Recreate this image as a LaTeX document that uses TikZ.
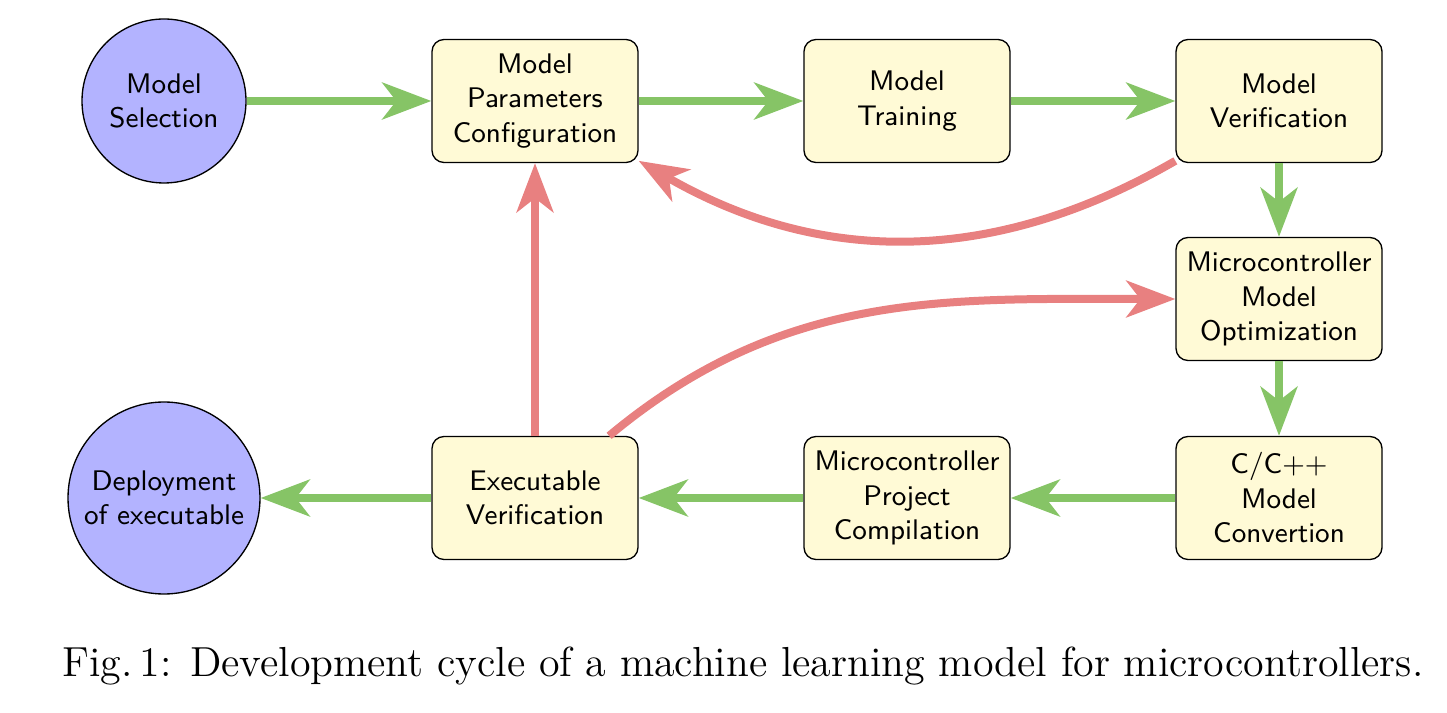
\documentclass[tikz,border=0pt]{standalone}
\usepackage{amsmath,amssymb}
\usetikzlibrary{arrows.meta}

\definecolor{stagefill}{HTML}{FFFAD6}
\definecolor{endfill}{HTML}{B3B3FF}
\definecolor{fwdgreen}{HTML}{86C466}
\definecolor{backred}{HTML}{E88080}
\newcommand\nodefont{\fontsize{8.5}{10.35}\selectfont\sffamily}

\begin{document}
\begin{tikzpicture}[x=0.3pt,y=0.3pt,yscale=-1,xscale=1,
    stage/.style={draw,rounded corners=3.6pt,fill=stagefill,minimum width=61.8pt,minimum height=36.9pt,inner sep=0pt,align=center,font=\nodefont},
    endpoint/.style={draw,circle,fill=endfill,inner sep=0pt,align=center,font=\nodefont},
    fwd/.style={draw=fwdgreen,line width=2.4pt,-{Stealth[length=14.7pt,width=11pt,inset=4.2pt]}},
    back/.style={draw=backred,line width=2.4pt,-{Stealth[length=14.7pt,width=11pt,inset=4.2pt]}}]
    \useasboundingbox (0,0) rectangle (1447,713);

    % Start and end
    \node [endpoint,minimum size=49.2pt] (sel) at (164,101) {Model\\Selection};
    \node [endpoint,minimum size=57.6pt] (dep) at (164,498) {Deployment\\of executable};

    % Top row
    \node [stage] (cfg) at (535,101) {Model\\Parameters\\Configuration};
    \node [stage] (train) at (907,101) {Model\\Training};
    \node [stage] (verif) at (1279,101) {Model\\Verification};

    % Right column
    \node [stage] (opt) at (1279,299) {Microcontroller\\Model\\Optimization};
    \node [stage] (conv) at (1279,498) {C/C++\\Model\\Convertion};

    % Bottom row
    \node [stage] (comp) at (907,498) {Microcontroller\\Project\\Compilation};
    \node [stage] (exec) at (535,498) {Executable\\Verification};

    % Forward flow
    \draw [fwd] (sel) -- (cfg);
    \draw [fwd] (cfg) -- (train);
    \draw [fwd] (train) -- (verif);
    \draw [fwd] (verif) -- (opt);
    \draw [fwd] (opt) -- (conv);
    \draw [fwd] (conv) -- (comp);
    \draw [fwd] (comp) -- (exec);
    \draw [fwd] (exec) -- (dep);

    % Feedback loops
    \draw [back] (exec) -- (cfg);
    \draw [back] (verif.210) .. controls +(-182,105) and +(182,105) .. (cfg.-30);
    \draw [back] (exec.40) .. controls +(175,-146) and +(-228,0) .. (opt.west);

    % Caption
    \node (cap) at (743,666) {\fontsize{12.6}{15}\selectfont Fig.\,1: Development cycle of a machine learning model for microcontrollers.};
\end{tikzpicture}
\end{document}
